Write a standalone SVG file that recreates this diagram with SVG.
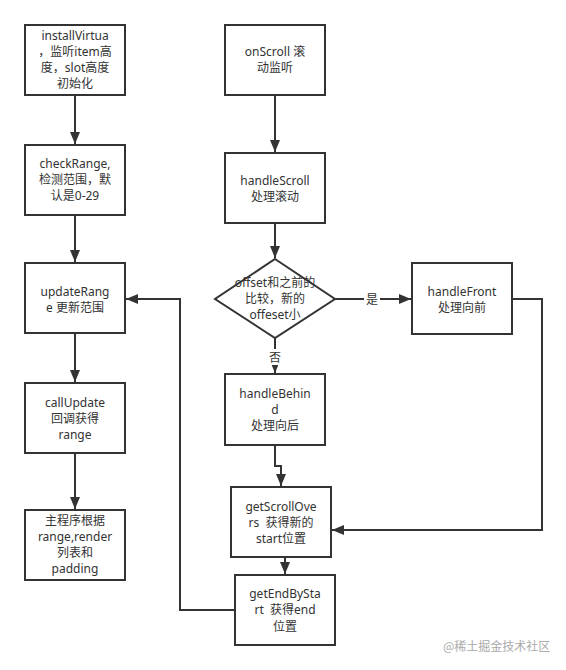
<svg xmlns="http://www.w3.org/2000/svg" width="566" height="670" viewBox="0 0 566 670">
<style>
.box{fill:#fff;stroke:#333;stroke-width:2}
.t{font-family:"Noto Sans","Noto Sans CJK SC",sans-serif;font-size:12px;fill:#333;text-anchor:middle}
.e{fill:none;stroke:#333;stroke-width:2}
.lbl{font-family:"Noto Sans CJK SC",sans-serif;font-size:12px;fill:#333;text-anchor:middle}
.wm{font-family:"Noto Sans CJK SC",sans-serif;font-size:12px;fill:#aaa}
</style>
<defs>
<marker id="ah" markerUnits="userSpaceOnUse" markerWidth="12" markerHeight="12" viewBox="0 0 12 12" refX="12" refY="6" orient="auto">
<path d="M0,1 L12,6 L0,11 Z" fill="#333"/>
</marker>
</defs>
<rect width="566" height="670" fill="#fff"/>
<g id="connectors">
<path class="e" d="M75,95 V144" marker-end="url(#ah)"/>
<path class="e" d="M75,215 V262" marker-end="url(#ah)"/>
<path class="e" d="M75,333 V382" marker-end="url(#ah)"/>
<path class="e" d="M75,453 V509" marker-end="url(#ah)"/>
<path class="e" d="M275,95 V152" marker-end="url(#ah)"/>
<path class="e" d="M275,223 V258" marker-end="url(#ah)"/>
<path class="e" d="M335,299 H411" marker-end="url(#ah)"/>
<path class="e" d="M275,338 V373" marker-end="url(#ah)"/>
<path class="e" d="M275,445 V466 H281 V486" marker-end="url(#ah)"/>
<path class="e" d="M512,299 H542 V530 H332" marker-end="url(#ah)"/>
<path class="e" d="M285,557 V574" marker-end="url(#ah)"/>
<path class="e" d="M235,610 H180 V299 H126" marker-end="url(#ah)"/>
<rect x="364" y="290" width="16" height="17" fill="#fff"/>
<text class="lbl" x="372" y="303.5">是</text>
<rect x="267" y="349" width="16" height="16" fill="#fff"/>
<text class="lbl" x="275" y="361.5">否</text>
</g>
<g id="installVirtual">
<rect class="box" x="25" y="25" width="100" height="70"/>
<text class="t" x="75" y="40">installVirtua</text>
<text class="t" x="75" y="56">，监听item高</text>
<text class="t" x="75" y="72">度，slot高度</text>
<text class="t" x="75" y="88">初始化</text>
</g>
<g id="checkRange">
<rect class="box" x="25" y="145" width="100" height="70"/>
<text class="t" x="75" y="168">checkRange,</text>
<text class="t" x="75" y="184">检测范围，默</text>
<text class="t" x="75" y="200">认是0-29</text>
</g>
<g id="updateRange">
<rect class="box" x="25" y="263" width="100" height="70"/>
<text class="t" x="75" y="296">updateRang</text>
<text class="t" x="75" y="312">e 更新范围</text>
</g>
<g id="callUpdate">
<rect class="box" x="25" y="383" width="100" height="70"/>
<text class="t" x="75" y="407">callUpdate</text>
<text class="t" x="75" y="423">回调获得</text>
<text class="t" x="75" y="439">range</text>
</g>
<g id="render">
<rect class="box" x="25" y="510" width="100" height="70"/>
<text class="t" x="75" y="525">主程序根据</text>
<text class="t" x="75" y="541">range,render</text>
<text class="t" x="75" y="557">列表和</text>
<text class="t" x="75" y="573">padding</text>
</g>
<g id="onScroll">
<rect class="box" x="225" y="25" width="100" height="70"/>
<text class="t" x="275" y="56">onScroll 滚</text>
<text class="t" x="275" y="72">动监听</text>
</g>
<g id="handleScroll">
<rect class="box" x="225" y="153" width="100" height="70"/>
<text class="t" x="275" y="185">handleScroll</text>
<text class="t" x="275" y="201">处理滚动</text>
</g>
<g id="decision">
<path class="box" d="M275,259 L335,299 L275,338 L215,299 Z"/>
<text class="t" x="275" y="287">offset和之前的</text>
<text class="t" x="275" y="303">比较，新的</text>
<text class="t" x="275" y="319">offeset小</text>
</g>
<g id="handleFront">
<rect class="box" x="412" y="263" width="100" height="71"/>
<text class="t" x="462" y="296">handleFront</text>
<text class="t" x="462" y="312">处理向前</text>
</g>
<g id="handleBehind">
<rect class="box" x="225" y="374" width="100" height="71"/>
<text class="t" x="275" y="398">handleBehin</text>
<text class="t" x="275" y="414">d</text>
<text class="t" x="275" y="430">处理向后</text>
</g>
<g id="getScrollOvers">
<rect class="box" x="231" y="487" width="100" height="70"/>
<text class="t" x="281" y="511">getScrollOve</text>
<text class="t" x="281" y="527" xml:space="preserve">rs  获得新的</text>
<text class="t" x="281" y="543">start位置</text>
</g>
<g id="getEndByStart">
<rect class="box" x="235" y="575" width="100" height="70"/>
<text class="t" x="285" y="598">getEndBySta</text>
<text class="t" x="285" y="614" xml:space="preserve">rt  获得end</text>
<text class="t" x="285" y="631">位置</text>
</g>
<text class="wm" x="443" y="651">@稀土掘金技术社区</text>
</svg>
